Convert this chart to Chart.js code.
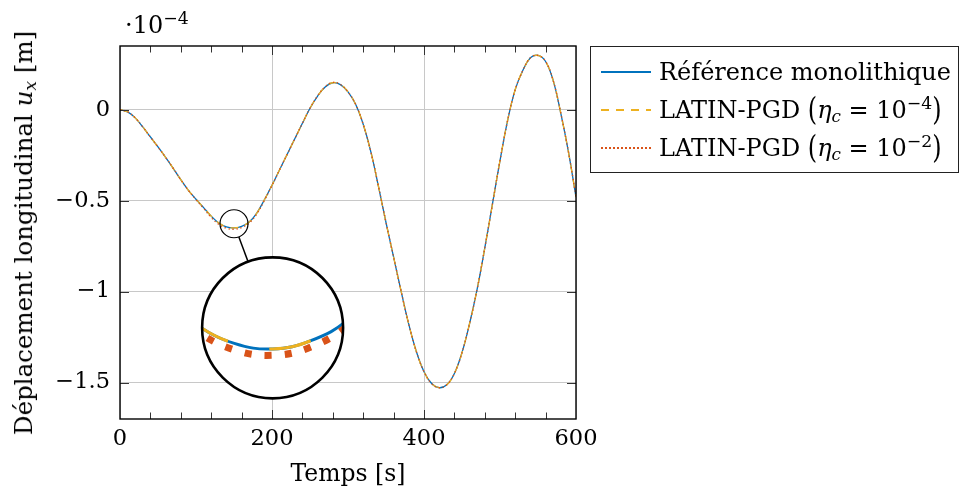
<!DOCTYPE html>
<html lang="fr">
<head>
<meta charset="UTF-8">
<title>Déplacement longitudinal</title>
<script src="https://cdn.jsdelivr.net/npm/chart.js@4.4.3/dist/chart.umd.min.js"></script>
<style>
  html, body { margin: 0; padding: 0; background: #fff; }
  body { font-family: "DejaVu Serif", serif; color: #000; }
  #wrap { position: relative; width: 960px; height: 489px; overflow: hidden; }
  #chart { position: absolute; left: 0; top: 0; }
  .math i { font-style: italic; }
  #ytitle {
    position: absolute; left: 24px; top: 233px; font-size: 24.5px; line-height: 24px;
    white-space: nowrap; transform: translate(-50%, -50%) rotate(-90deg);
  }
  #ytitle sub { font-size: 0.7em; vertical-align: -0.25em; line-height: 0; }
  #expo { position: absolute; left: 125px; top: 13px; font-size: 24px; line-height: 24px; white-space: nowrap; }
  #expo sup { font-size: 0.72em; vertical-align: 0.55em; line-height: 0; }
  #legend {
    position: absolute; left: 590px; top: 46px; width: 369px; height: 127px;
    border: 1px solid #222; box-sizing: border-box; padding-top: 6px;
    font-size: 24px;
  }
  #legend .row { display: flex; align-items: center; height: 38px; white-space: nowrap; }
  #legend svg { margin-left: 10px; margin-right: 8px; flex: none; }
  #legend sub { font-size: 0.7em; vertical-align: -0.25em; line-height: 0; }
  #legend sup { font-size: 0.72em; vertical-align: 0.55em; line-height: 0; }
  .paren { display: inline-block; transform: scaleY(1.3); }
</style>
</head>
<body>
<div id="wrap">
  <canvas id="chart" width="960" height="489"></canvas>
  <div id="expo">·10<sup>−4</sup></div>
  <div id="ytitle" class="math">Déplacement longitudinal <i>u</i><sub><i>x</i></sub> [m]</div>
  <div id="legend" class="math">
    <div class="row">
      <svg width="50" height="10"><line x1="0" y1="5" x2="50" y2="5" stroke="#0072BD" stroke-width="2"/></svg>
      <span>Référence monolithique</span>
    </div>
    <div class="row">
      <svg width="50" height="10"><line x1="0" y1="5" x2="50" y2="5" stroke="#EDB120" stroke-width="2" stroke-dasharray="8 7"/></svg>
      <span>LATIN-PGD <span class="paren">(</span><i>η</i><sub><i>c</i></sub> = 10<sup>−4</sup><span class="paren">)</span></span>
    </div>
    <div class="row">
      <svg width="50" height="10"><line x1="0" y1="5" x2="50" y2="5" stroke="#D95319" stroke-width="2.2" stroke-dasharray="2 2"/></svg>
      <span>LATIN-PGD <span class="paren">(</span><i>η</i><sub><i>c</i></sub> = 10<sup>−2</sup><span class="paren">)</span></span>
    </div>
  </div>
</div>

<script>
// time axis [s]
const times = [
  0, 10, 20, 30, 40, 50, 60, 70, 80, 90,
  100, 110, 120, 130, 140, 150, 160, 170, 180, 190,
  200, 210, 220, 230, 240, 250, 260, 270, 280, 290,
  300, 310, 320, 330, 340, 350, 360, 370, 380, 390,
  400, 410, 420, 430, 440, 450, 460, 470, 480, 490,
  500, 510, 520, 530, 540, 550, 560, 570, 580, 590, 600
];

// u_x in units of 1e-4 m
const reference = [
  0, -0.012, -0.045, -0.095, -0.150, -0.205, -0.262, -0.322, -0.385, -0.443,
  -0.492, -0.538, -0.585, -0.623, -0.644, -0.650, -0.641, -0.617, -0.568, -0.495,
  -0.415, -0.330, -0.245, -0.160, -0.075, 0.008, 0.075, 0.125, 0.148, 0.138,
  0.098, 0.030, -0.080, -0.230, -0.420, -0.620, -0.810, -1.000, -1.180, -1.330,
  -1.440, -1.505, -1.528, -1.512, -1.450, -1.335, -1.175, -0.985, -0.760, -0.520,
  -0.280, -0.060, 0.110, 0.215, 0.285, 0.298, 0.265, 0.160, -0.020, -0.230, -0.480
];

const latin4 = [
  0, -0.012, -0.045, -0.095, -0.150, -0.205, -0.262, -0.322, -0.385, -0.443,
  -0.492, -0.538, -0.585, -0.623, -0.644, -0.650, -0.641, -0.617, -0.568, -0.495,
  -0.415, -0.330, -0.245, -0.160, -0.075, 0.008, 0.075, 0.125, 0.148, 0.138,
  0.098, 0.030, -0.080, -0.230, -0.420, -0.620, -0.810, -1.000, -1.180, -1.330,
  -1.440, -1.505, -1.528, -1.512, -1.450, -1.335, -1.175, -0.985, -0.760, -0.520,
  -0.280, -0.060, 0.110, 0.215, 0.285, 0.298, 0.265, 0.160, -0.020, -0.230, -0.480
];

const latin2 = [
  0, -0.012, -0.045, -0.095, -0.150, -0.205, -0.262, -0.322, -0.385, -0.443,
  -0.494, -0.542, -0.592, -0.630, -0.651, -0.657, -0.648, -0.623, -0.573, -0.498,
  -0.416, -0.330, -0.245, -0.160, -0.075, 0.008, 0.076, 0.127, 0.150, 0.139,
  0.098, 0.030, -0.080, -0.230, -0.420, -0.620, -0.810, -1.000, -1.180, -1.330,
  -1.440, -1.505, -1.528, -1.512, -1.450, -1.335, -1.175, -0.985, -0.760, -0.520,
  -0.280, -0.060, 0.110, 0.215, 0.285, 0.298, 0.265, 0.160, -0.020, -0.230, -0.480
];

const xMajorStep = 200;
const xMinorStep = 40;
const yStep = 0.5;

const FONT = 'DejaVu Serif';

// magnifier: source spot on the curve and where the enlarged view sits (data coords, px radii)
const loupe = { srcT: 150, srcU: -0.627, srcR: 14, dstT: 200.8, dstU: -1.199, dstR: 70.5 };

function toPoints(vals) {
  return times.map((t, i) => ({ x: t, y: vals[i] }));
}

const loupePlugin = {
  id: 'loupe',
  afterDatasetsDraw(chart) {
    const { ctx, scales: { x, y } } = chart;
    const sx = x.getPixelForValue(loupe.srcT), sy = y.getPixelForValue(loupe.srcU);
    const bx = x.getPixelForValue(loupe.dstT), by = y.getPixelForValue(loupe.dstU);
    const k = loupe.dstR / loupe.srcR;

    ctx.save();
    ctx.beginPath();
    ctx.arc(bx, by, loupe.dstR, 0, Math.PI * 2);
    ctx.fillStyle = '#fff';
    ctx.fill();
    ctx.clip();
    ctx.translate(bx, by);
    ctx.scale(k, k);
    ctx.translate(-sx, -sy);
    const styles = [
      { w: 3, dash: [] },
      { w: 3, dash: [8.4, 8.4] },
      { w: 7, dash: [1.4, 2.6] }
    ];
    chart.data.datasets.forEach((ds, i) => {
      const meta = chart.getDatasetMeta(i);
      const line = meta.dataset;
      ctx.beginPath();
      if (line && typeof line.path === 'function') {
        line.path(ctx);
      } else {
        meta.data.forEach((p, j) => j ? ctx.lineTo(p.x, p.y) : ctx.moveTo(p.x, p.y));
      }
      ctx.lineWidth = styles[i].w / k;
      ctx.setLineDash(styles[i].dash);
      ctx.lineCap = 'butt';
      ctx.lineJoin = 'round';
      ctx.strokeStyle = ds.borderColor;
      ctx.stroke();
    });
    ctx.restore();

    ctx.save();
    ctx.strokeStyle = '#000';
    ctx.lineWidth = 2.6;
    ctx.beginPath();
    ctx.arc(bx, by, loupe.dstR, 0, Math.PI * 2);
    ctx.stroke();
    ctx.lineWidth = 1.2;
    ctx.beginPath();
    ctx.arc(sx, sy, loupe.srcR, 0, Math.PI * 2);
    ctx.stroke();
    const dx = bx - sx, dy = by - sy, len = Math.hypot(dx, dy);
    const ux = dx / len, uy = dy / len;
    ctx.lineWidth = 1.5;
    ctx.beginPath();
    ctx.moveTo(sx + ux * loupe.srcR, sy + uy * loupe.srcR);
    ctx.lineTo(bx - ux * loupe.dstR, by - uy * loupe.dstR);
    ctx.stroke();
    ctx.restore();
  }
};

// frame and inward tick marks (pgfplots style)
const framePlugin = {
  id: 'frame',
  afterDraw(chart) {
    const { ctx, chartArea: a, scales: { x, y } } = chart;
    ctx.save();
    ctx.strokeStyle = '#333';
    ctx.lineWidth = 1;
    x.ticks.forEach(t => {
      if (t.value <= x.min || t.value >= x.max) return;
      const px = Math.round(x.getPixelForValue(t.value)) + 0.5;
      const len = t.value % xMajorStep === 0 ? 9 : 6.5;
      ctx.beginPath();
      ctx.moveTo(px, a.bottom); ctx.lineTo(px, a.bottom - len);
      ctx.moveTo(px, a.top); ctx.lineTo(px, a.top + len);
      ctx.stroke();
    });
    y.ticks.forEach(t => {
      const py = Math.round(y.getPixelForValue(t.value)) + 0.5;
      ctx.beginPath();
      ctx.moveTo(a.left, py); ctx.lineTo(a.left + 9, py);
      ctx.moveTo(a.right, py); ctx.lineTo(a.right - 9, py);
      ctx.stroke();
    });
    ctx.strokeStyle = '#000';
    ctx.lineWidth = 1.4;
    ctx.strokeRect(a.left, a.top, a.right - a.left, a.bottom - a.top);
    ctx.restore();
  }
};

new Chart(document.getElementById('chart'), {
  type: 'line',
  data: {
    datasets: [
      {
        label: 'Référence monolithique',
        data: toPoints(reference),
        borderColor: '#0072BD', borderWidth: 1.3, order: 3
      },
      {
        label: 'LATIN-PGD (η_c = 10^-4)',
        data: toPoints(latin4),
        borderColor: '#EDB120', borderWidth: 1.3, borderDash: [8, 7], order: 2
      },
      {
        label: 'LATIN-PGD (η_c = 10^-2)',
        data: toPoints(latin2),
        borderColor: '#D95319', borderWidth: 1.4, borderDash: [1.3, 2.7], order: 1
      }
    ]
  },
  options: {
    responsive: false,
    animation: false,
    events: [],
    elements: {
      point: { radius: 0 },
      line: { tension: 0.4, fill: false, borderCapStyle: 'butt' }
    },
    layout: { padding: { left: 0, right: 384, top: 46, bottom: 0 } },
    plugins: { legend: { display: false }, tooltip: { enabled: false } },
    scales: {
      x: {
        type: 'linear', min: 0, max: 600,
        ticks: {
          stepSize: xMinorStep, autoSkip: false, maxRotation: 0, padding: 7,
          color: '#000', font: { family: FONT, size: 22.5 },
          callback: v => (v % xMajorStep === 0 ? String(v) : '')
        },
        grid: {
          drawTicks: false, lineWidth: 1,
          color: c => (c.tick && c.tick.value % xMajorStep === 0 ? '#c8c8c8' : 'rgba(0,0,0,0)')
        },
        border: { display: false },
        title: {
          display: true, text: 'Temps [s]', color: '#000',
          font: { family: FONT, size: 23.5 }, padding: { top: 0, bottom: 0 }
        },
        afterFit(scale) { scale.height = 70; }
      },
      y: {
        min: -1.7, max: 0.35,
        ticks: {
          stepSize: yStep, includeBounds: false, padding: 10,
          color: '#000', font: { family: FONT, size: 22.5 },
          callback: v => (v === 0 ? '0' : String(v).replace('-', '−'))
        },
        grid: { drawTicks: false, lineWidth: 1, color: '#c8c8c8' },
        border: { display: false },
        afterFit(scale) { scale.width = 120; }
      }
    }
  },
  plugins: [loupePlugin, framePlugin]
});
</script>
</body>
</html>
